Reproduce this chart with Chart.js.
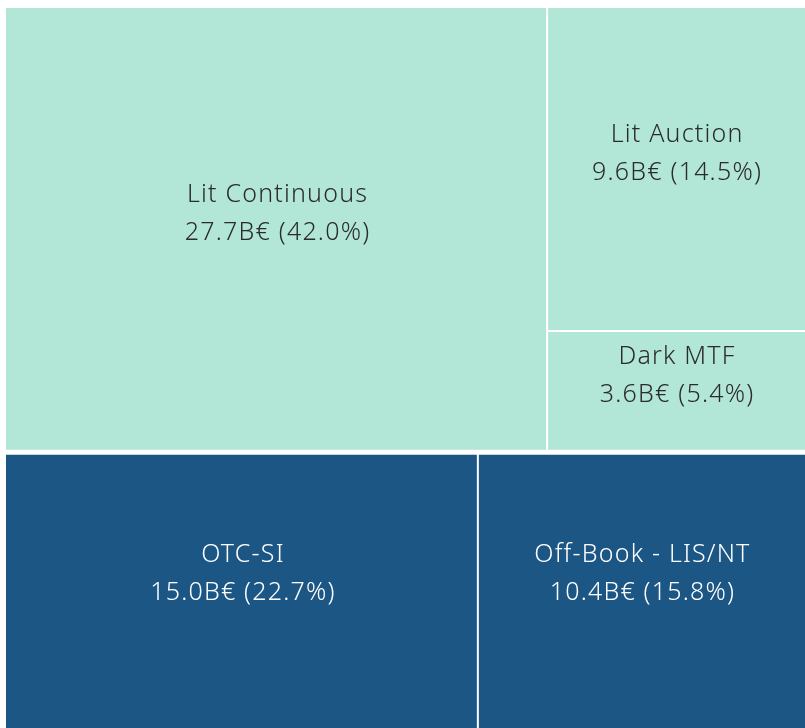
<!DOCTYPE html>
<html>
<head>
<meta charset="utf-8">
<script src="https://cdn.jsdelivr.net/npm/chart.js@4/dist/chart.umd.min.js"></script>
<style>
  html, body { margin: 0; padding: 0; background: #fff; }
  canvas { display: block; }
</style>
</head>
<body>
<canvas id="treemap" width="805" height="728"></canvas>
<script>
// -----------------------
// データ
// -----------------------
const groups = ["Lit", "Off-Book"];
const labels = ["Lit Continuous", "Lit Auction", "Dark MTF", "OTC-SI", "Off-Book - LIS/NT"];
const groupOf = ["Lit", "Lit", "Lit", "Off-Book", "Off-Book"];
const valuesB = [27.7, 9.6, 3.6, 15.0, 10.4];
const shares = [42.0, 14.5, 5.4, 22.7, 15.8];
const groupColors = { "Lit": "#b2e6d7", "Off-Book": "#1b5685" };
const textColors = { "Lit": "#2b2b2b", "Off-Book": "#ffffff" };

// レイアウト（データ単位 0..1）
function buildLayout() {
    const total = valuesB.reduce((a, b) => a + b, 0);
    const cells = [];
    const groupRects = [];
    let y = 0;
    groups.forEach(g => {
        const idx = labels.map((_, i) => i).filter(i => groupOf[i] === g);
        const gSum = idx.reduce((a, i) => a + valuesB[i], 0);
        const h = gSum / total;
        groupRects.push({ x0: 0, x1: 1, y0: y, y1: y + h });
        // 先頭は全高の列、残りは右の列に縦積み
        const w0 = valuesB[idx[0]] / gSum;
        cells.push({ i: idx[0], x0: 0, x1: w0, y0: y, y1: y + h });
        const rest = idx.slice(1);
        const rSum = rest.reduce((a, i) => a + valuesB[i], 0);
        let ry = y;
        rest.forEach(i => {
            const rh = h * valuesB[i] / rSum;
            cells.push({ i: i, x0: w0, x1: 1, y0: ry, y1: ry + rh });
            ry += rh;
        });
        y += h;
    });
    return { cells, groupRects };
}
const layout = buildLayout();

const treemapPlugin = {
    id: "treemapCells",
    beforeDatasetsDraw(chart) {
        const { ctx, scales: { x, y } } = chart;
        const px = v => x.getPixelForValue(v);
        const py = v => y.getPixelForValue(v);
        ctx.save();
        layout.cells.forEach(c => {
            const g = groupOf[c.i];
            ctx.fillStyle = groupColors[g];
            ctx.fillRect(px(c.x0), py(c.y0), px(c.x1) - px(c.x0), py(c.y1) - py(c.y0));
        });
        // 白い境界線
        ctx.strokeStyle = "#ffffff";
        layout.cells.forEach(c => {
            ctx.lineWidth = 2;
            if (c.x0 > 0) {
                ctx.beginPath();
                ctx.moveTo(px(c.x0), py(c.y0));
                ctx.lineTo(px(c.x0), py(c.y1));
                ctx.stroke();
            }
            if (c.y0 > 0) {
                ctx.beginPath();
                ctx.moveTo(px(c.x0), py(c.y0));
                ctx.lineTo(px(c.x1), py(c.y0));
                ctx.stroke();
            }
        });
        layout.groupRects.forEach(r => {
            if (r.y0 > 0) {
                ctx.lineWidth = 5;
                ctx.beginPath();
                ctx.moveTo(px(r.x0), py(r.y0));
                ctx.lineTo(px(r.x1), py(r.y0));
                ctx.stroke();
            }
        });
        // ラベル
        ctx.font = "300 25px 'Noto Sans'";
        ctx.letterSpacing = "1.2px";
        ctx.textAlign = "center";
        ctx.textBaseline = "middle";
        layout.cells.forEach(c => {
            const cx = (px(c.x0) + px(c.x1)) / 2 + 1;
            const cy = (py(c.y0) + py(c.y1)) / 2 - 16;
            ctx.fillStyle = textColors[groupOf[c.i]];
            ctx.fillText(labels[c.i], cx, cy - 19);
            ctx.fillText(valuesB[c.i].toFixed(1) + "B€ (" + shares[c.i].toFixed(1) + "%)", cx, cy + 19);
        });
        ctx.restore();
    }
};

new Chart(document.getElementById("treemap").getContext("2d"), {
    type: "scatter",
    data: { datasets: [{ data: [], pointRadius: 0 }] },
    options: {
        responsive: false,
        animation: false,
        layout: { padding: { left: 6, top: 8, right: 0, bottom: 0 } },
        plugins: { legend: { display: false }, tooltip: { enabled: false } },
        scales: {
            x: { type: "linear", min: 0, max: 1, display: false },
            y: { type: "linear", min: 0, max: 1, reverse: true, display: false }
        }
    },
    plugins: [treemapPlugin]
});
</script>
</body>
</html>
